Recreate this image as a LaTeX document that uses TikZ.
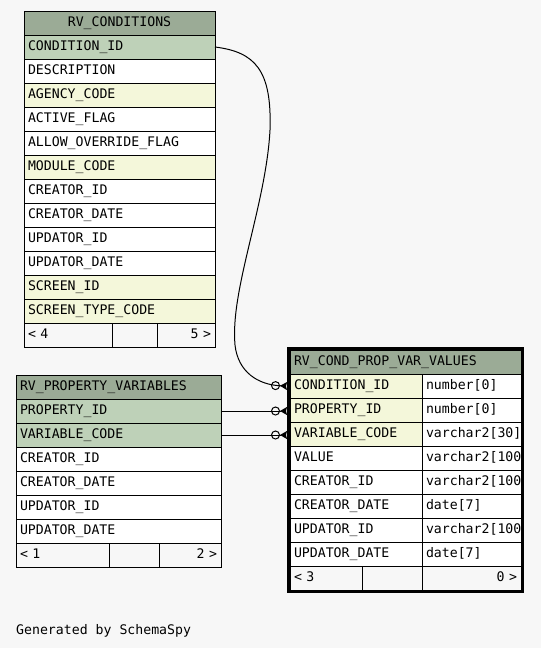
\documentclass[tikz,border=0pt]{standalone}
\usepackage{fontspec}
\usetikzlibrary{arrows.meta,positioning}
\newfontfamily\schemafont{DejaVu Sans Mono}
\definecolor{canvas}{HTML}{F7F7F7}
\definecolor{tablehead}{HTML}{9BAB96}
\definecolor{primarykey}{HTML}{BED1B8}
\definecolor{indexed}{HTML}{F4F7DA}
\tikzset{
  cell/.style={draw=black, line width=1pt, fill=white, minimum height=24pt,
    text height=9.5pt, text depth=2.5pt, inner xsep=4pt, inner ysep=0pt, outer sep=0pt,
    align=left, font=\schemafont\fontsize{13.2}{15}\selectfont},
  head/.style={cell, fill=tablehead},
  pk/.style={cell, fill=primarykey},
  idx/.style={cell, fill=indexed},
  foot/.style={cell, fill=canvas},
  onemany/.style={line width=1pt,
    -{Circle[open,length=9pt,width=9pt,sep=0pt]Stealth[reversed,length=7pt,width=8pt,inset=1pt]}}
}

\begin{document}
\begin{tikzpicture}[x=1pt, y=-1pt,
    condcol/.style={text width=183pt},
    propcol/.style={text width=197pt},
    namecol/.style={text width=124pt},
    typecol/.style={text width=91pt}]
  \fill[canvas] (0,0) rectangle (541,648);
  \useasboundingbox (0,0) rectangle (541,648);

  % RV_CONDITIONS
  \node[head, condcol, align=center, anchor=north west] (c-head) at (24,11) {RV\_CONDITIONS\hspace*{16pt}};
  \node[pk, condcol, below=0pt of c-head] (c-condid) {CONDITION\_ID};
  \node[cell, condcol, below=0pt of c-condid] (c-desc) {DESCRIPTION};
  \node[idx, condcol, below=0pt of c-desc] (c-agency) {AGENCY\_CODE};
  \node[cell, condcol, below=0pt of c-agency] (c-active) {ACTIVE\_FLAG};
  \node[cell, condcol, below=0pt of c-active] (c-allow) {ALLOW\_OVERRIDE\_FLAG};
  \node[idx, condcol, below=0pt of c-allow] (c-module) {MODULE\_CODE};
  \node[cell, condcol, below=0pt of c-module] (c-creid) {CREATOR\_ID};
  \node[cell, condcol, below=0pt of c-creid] (c-credate) {CREATOR\_DATE};
  \node[cell, condcol, below=0pt of c-credate] (c-updid) {UPDATOR\_ID};
  \node[cell, condcol, below=0pt of c-updid] (c-upddate) {UPDATOR\_DATE};
  \node[idx, condcol, below=0pt of c-upddate] (c-screen) {SCREEN\_ID};
  \node[idx, condcol, below=0pt of c-screen] (c-screentype) {SCREEN\_TYPE\_CODE};
  \node[foot, text width=80pt, anchor=north west] (c-foot1) at (c-screentype.south west) {< 4};
  \node[foot, text width=37pt, right=0pt of c-foot1] (c-foot2) {};
  \node[foot, text width=50pt, align=right, right=0pt of c-foot2] (c-foot3) {5 >};

  % RV_PROPERTY_VARIABLES
  \node[head, propcol, anchor=north west] (p-head) at (16,375) {RV\_PROPERTY\_VARIABLES};
  \node[pk, propcol, below=0pt of p-head] (p-propid) {PROPERTY\_ID};
  \node[pk, propcol, below=0pt of p-propid] (p-varcode) {VARIABLE\_CODE};
  \node[cell, propcol, below=0pt of p-varcode] (p-creid) {CREATOR\_ID};
  \node[cell, propcol, below=0pt of p-creid] (p-credate) {CREATOR\_DATE};
  \node[cell, propcol, below=0pt of p-credate] (p-updid) {UPDATOR\_ID};
  \node[cell, propcol, below=0pt of p-updid] (p-upddate) {UPDATOR\_DATE};
  \node[foot, text width=85pt, anchor=north west] (p-foot1) at (p-upddate.south west) {< 1};
  \node[foot, text width=42pt, right=0pt of p-foot1] (p-foot2) {};
  \node[foot, text width=54pt, align=right, right=0pt of p-foot2] (p-foot3) {2 >};

  % RV_COND_PROP_VAR_VALUES
  \node[head, text width=223pt, anchor=north west] (v-head) at (290,350) {RV\_COND\_PROP\_VAR\_VALUES};
  \node[idx, namecol, anchor=north west] (v-condid) at (v-head.south west) {CONDITION\_ID};
  \node[cell, typecol, right=0pt of v-condid] (v-condid-t) {number[0]};
  \node[idx, namecol, below=0pt of v-condid] (v-propid) {PROPERTY\_ID};
  \node[cell, typecol, right=0pt of v-propid] (v-propid-t) {number[0]};
  \node[idx, namecol, below=0pt of v-propid] (v-varcode) {VARIABLE\_CODE};
  \node[cell, typecol, right=0pt of v-varcode] (v-varcode-t) {varchar2[30]};
  \node[cell, namecol, below=0pt of v-varcode] (v-value) {VALUE};
  \node[cell, typecol, right=0pt of v-value] (v-value-t) {varchar2[100};
  \node[cell, namecol, below=0pt of v-value] (v-creid) {CREATOR\_ID};
  \node[cell, typecol, right=0pt of v-creid] (v-creid-t) {varchar2[100};
  \node[cell, namecol, below=0pt of v-creid] (v-credate) {CREATOR\_DATE};
  \node[cell, typecol, right=0pt of v-credate] (v-credate-t) {date[7]};
  \node[cell, namecol, below=0pt of v-credate] (v-updid) {UPDATOR\_ID};
  \node[cell, typecol, right=0pt of v-updid] (v-updid-t) {varchar2[100};
  \node[cell, namecol, below=0pt of v-updid] (v-upddate) {UPDATOR\_DATE};
  \node[cell, typecol, right=0pt of v-upddate] (v-upddate-t) {date[7]};
  \node[foot, text width=64pt, anchor=north west] (v-foot1) at (v-upddate.south west) {< 3};
  \node[foot, text width=52pt, right=0pt of v-foot1] (v-foot2) {};
  \node[foot, typecol, align=right, right=0pt of v-foot2] (v-foot3) {0 >};
  \draw[line width=3pt] ([shift={(-1.5pt,1.5pt)}]v-head.north west) rectangle ([shift={(1.5pt,-1.5pt)}]v-foot3.south east);

  \draw[onemany] (c-condid.east) .. controls (255,52) and (272,70) .. (270,130)
    .. controls (266,205) and (230,290) .. (235,345)
    .. controls (238,372) and (258,385) .. ([xshift=-3pt]v-condid.west);
  \draw[onemany] (p-propid.east) -- ([xshift=-3pt]p-propid.east -| v-propid.west);
  \draw[onemany] (p-varcode.east) -- ([xshift=-3pt]p-varcode.east -| v-varcode.west);

  \node[anchor=base west, inner sep=0pt, font=\schemafont\fontsize{13.2}{15}\selectfont] (credit) at (16,634) {Generated by SchemaSpy};
\end{tikzpicture}
\end{document}
